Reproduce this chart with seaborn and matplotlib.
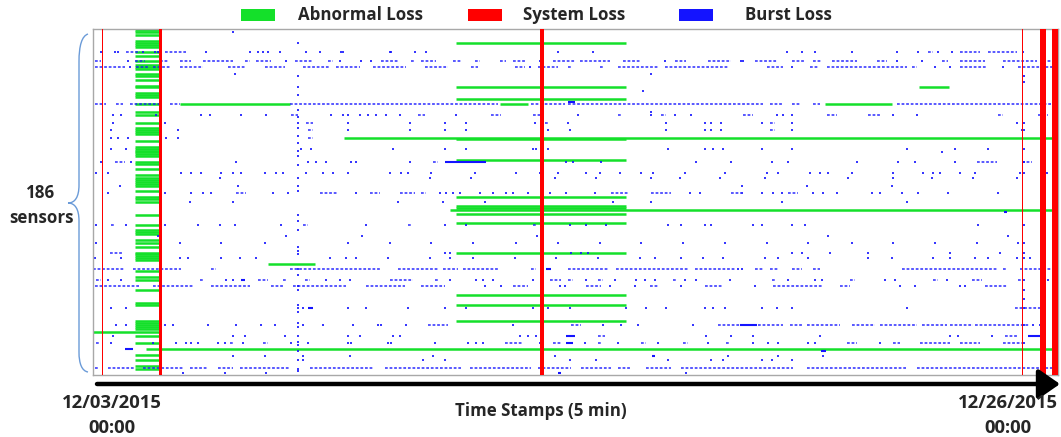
import numpy as np
import pandas as pd
import seaborn as sns
import matplotlib.pyplot as plt
from matplotlib.patches import Rectangle, FancyArrowPatch, PathPatch
from matplotlib.path import Path

# ---- data (time stamp index, 5-min steps; sensor index 0..185) ----
n_sensors = 186
n_stamps = 6624  # 23 days x 288

abnormal_left_rows = [0, 1, 3, 6, 7, 8, 9, 12, 14, 17, 19, 20, 21, 24, 25, 27, 30, 31, 34, 35, 36,
                      40, 44, 46, 50, 53, 54, 55, 56, 60, 63, 64, 65, 66, 67, 68, 71, 72, 75, 78,
                      80, 81, 82, 83, 84, 87, 90, 91, 93, 100, 105, 108, 109, 110, 113, 115, 117,
                      120, 121, 122, 123, 124, 130, 133, 135, 140, 147, 148, 157, 158, 159, 160,
                      161, 165, 169, 175, 178, 181, 183]
abnormal_left_span = (288, 460)
abnormal_mid_rows = [7, 31, 37, 59, 70, 90, 95, 96, 99, 104, 120, 143, 148, 157]
abnormal_mid_span = (2492, 3662)
abnormal_long = [(40, 595, 1350), (40, 2792, 2986), (40, 5024, 5482), (58, 1721, 6624),
                 (31, 5670, 5876), (97, 2448, 6624), (126, 1201, 1522), (163, 0, 460),
                 (172, 362, 6624)]

system_loss = [(60, 66), (453, 474), (3071, 3094), (6376, 6382), (6401, 6405),
               (6500, 6541), (6585, 6622)]

burst_runs = [
    (12, 229, 320), (12, 492, 641), (12, 5734, 5768), (12, 5951, 6088), (12, 6146, 6340),
    (17, 11, 57), (17, 286, 355), (17, 458, 515), (17, 595, 675), (17, 755, 961), (17, 1041, 1075),
    (17, 1121, 1224), (17, 1384, 1510), (17, 1613, 1647), (17, 1979, 2094), (17, 2185, 2208),
    (17, 2254, 2357), (17, 2471, 2528), (17, 2620, 2654), (17, 2792, 2837), (17, 2883, 2963),
    (17, 3158, 3306), (17, 3341, 3547), (17, 3638, 3753), (17, 3993, 4073), (17, 4222, 4382),
    (17, 4544, 4693), (17, 4796, 4887), (17, 4944, 5002), (17, 5070, 5242), (17, 5379, 5448),
    (17, 5825, 5871), (17, 5951, 6123), (17, 6249, 6477), (17, 6523, 6592),
    (20, 11, 217), (20, 297, 378), (20, 412, 538), (20, 595, 755), (20, 927, 1041), (20, 1178, 1316),
    (20, 1441, 1624), (20, 1670, 1830), (20, 1922, 2151), (20, 2277, 2437), (20, 2597, 2643),
    (20, 2895, 2963), (20, 3055, 3192), (20, 3261, 3283), (20, 3478, 3501), (20, 3604, 3878),
    (20, 3924, 4359), (20, 4624, 4738), (20, 4921, 4979), (20, 5036, 5585), (20, 5619, 5654),
    (20, 5951, 6134), (20, 6351, 6580),
    (40, 11, 92), (40, 160, 206), (40, 252, 458), (40, 526, 595), (40, 1350, 2780), (40, 3009, 3238),
    (40, 3261, 4601), (40, 4647, 4738), (40, 4796, 4853), (40, 4944, 4990), (40, 5516, 6615),
    (46, 1361, 1407), (46, 2231, 2277), (46, 2734, 2803), (46, 3020, 3089), (46, 3604, 3627),
    (46, 3901, 3936), (46, 4464, 4533), (46, 5036, 5105), (46, 5322, 5402), (46, 6214, 6249),
    (46, 6489, 6557),
    (50, 1464, 1510), (50, 3100, 3123), (50, 4647, 4681), (54, 1476, 1510), (54, 4647, 4681),
    (58, 1476, 1510),
    (71, 149, 217), (71, 2334, 2368), (71, 6065, 6203), (71, 6374, 6443),
    (88, 984, 1052), (88, 1556, 1682), (88, 1899, 1968), (88, 2105, 2208), (88, 2254, 2288),
    (88, 3558, 3673), (88, 3833, 3970), (88, 4382, 4450), (88, 4773, 4841),
    (105, 126, 149), (105, 1441, 1476), (105, 2162, 2185), (105, 3020, 3043), (120, 114, 206),
    (129, 0, 217), (129, 275, 606), (129, 812, 847), (129, 1350, 1968), (129, 2094, 2368),
    (129, 2403, 2506), (129, 2540, 2780), (129, 3009, 3043), (129, 3261, 3535), (129, 3592, 4084),
    (129, 4130, 4405), (129, 4544, 4601), (129, 4647, 4704), (129, 4796, 4864), (129, 4944, 4990),
    (129, 5551, 6214), (129, 6249, 6272), (129, 6363, 6592),
    (135, 23, 57), (135, 732, 755), (135, 1133, 1201), (135, 1304, 1327), (135, 1453, 1487),
    (135, 2036, 2196), (135, 2345, 2368), (135, 3135, 3215), (135, 3261, 3295), (135, 3467, 3501),
    (135, 3981, 4004), (135, 4658, 4681), (135, 5196, 5230), (135, 5768, 5802), (135, 6031, 6100),
    (135, 6351, 6386),
    (138, 11, 320), (138, 412, 686), (138, 812, 1075), (138, 1224, 1304), (138, 1373, 1739),
    (138, 1876, 2139), (138, 2254, 2414), (138, 2883, 2986), (138, 3386, 3489), (138, 3821, 3878),
    (138, 4199, 4325), (138, 4670, 5013), (138, 5127, 5196), (138, 6123, 6272),
    (150, 6329, 6546),
    (159, 2300, 2437), (159, 3284, 3352), (159, 4290, 4450), (159, 4567, 4738), (159, 4784, 4876),
    (159, 4899, 5127), (159, 5207, 5368), (159, 5402, 5654), (159, 5688, 5860), (159, 5882, 6043),
    (159, 6054, 6432),
    (165, 3467, 3512), (165, 6260, 6340),
    (169, 23, 46), (169, 938, 961), (169, 1167, 1201), (169, 2826, 2952), (169, 3158, 3215),
    (169, 3467, 3489), (169, 3764, 3798), (169, 4050, 4084), (169, 4348, 4371), (169, 5173, 5242),
    (169, 5493, 5539), (169, 5677, 5882), (169, 5951, 6088), (169, 6249, 6386),
    (182, 11, 34), (182, 103, 286), (182, 343, 618), (182, 664, 789), (182, 858, 961),
    (182, 1007, 1350), (182, 1487, 1922), (182, 2002, 2528), (182, 2586, 3009), (182, 3055, 3283),
    (182, 3352, 3558), (182, 3604, 3684), (182, 3798, 3970), (182, 4039, 4807), (182, 4899, 5585),
    (182, 5654, 6580),
]

burst_blocks = [(71, 2414, 2700), (39, 3261, 3306), (135, 1018, 1041), (129, 3112, 3146),
                (150, 1476, 1510), (165, 3249, 3306), (165, 6420, 6500), (169, 3249, 3295),
                (172, 217, 275), (173, 5000, 5030), (185, 3192, 3215), (98, 6250, 6275),
                (176, 3835, 3855), (159, 4441, 4555)]

burst_dots = {
    1: [961],
    12: [57, 149, 172, 343, 423, 446, 778, 1075, 1133, 1167, 1201, 1281, 1464, 1556, 1705, 1716,
         2036, 2048, 2208, 2288, 3192, 3432, 4761, 4864, 4956, 5207, 5516, 5665, 5802, 5894, 6386],
    17: [240, 1327, 1693, 1842, 1910, 3066, 3924, 4450, 4464, 5516, 5688],
    20: [252, 2997, 4796, 5779, 5882, 6249],
    24: [972, 3833], 33: [3775], 44: [3833],
    46: [137, 194, 435, 744, 801, 1018, 1190, 1636, 1716, 1750, 1830, 1888, 1945, 2013, 2105,
         2494, 3329, 3833, 3993, 4107, 4693, 4738, 4796, 5493, 5654],
    50: [137, 492, 1750, 2174, 2414, 2563, 3032, 3261, 3936, 4199, 4245, 4313, 4590, 4796, 6340],
    54: [126, 583, 1750, 2174, 2414, 2563, 3123, 3272, 3936, 4199, 4245, 4313, 4796, 6374],
    58: [126, 172, 240, 458, 503, 583],
    64: [126, 229, 1430, 1499, 2059, 2414, 2563, 3020, 3043, 3123, 3947, 4199, 4257, 4325, 4590,
         4796, 5585, 5917, 6146],
    66: [5825],
    71: [57, 263, 984, 1476, 1533, 1602, 1773, 1808, 2174, 3249, 3295, 3489, 4142, 4382, 4658,
         4773, 5242, 5528, 5643, 5917],
    77: [23, 103, 606, 675, 744, 881, 961, 1018, 1178, 1258, 1304, 1464, 1579, 1647, 1750, 2036,
         2116, 2162, 2323, 2620, 2906, 3066, 3192, 3386, 3478, 3615, 3764, 3844, 4061, 4336, 4624,
         4704, 4921, 4990, 5047, 5207, 5493, 5699, 5768, 5814, 5951, 6054, 6363, 6546],
    80: [869, 2311, 2597, 3169, 3455, 3833, 4027, 4302, 4613, 5185, 5493, 5757, 6043, 6340],
    84: [183, 995, 4452, 4899, 5482],
    88: [103, 492, 675, 755, 812, 1236, 1338, 1808, 2380, 2425, 2471, 2517, 2654, 2746, 2837,
         2883, 2986, 3135, 3249, 3444, 4096, 4165, 4452, 4590, 4670, 4727, 4944, 5013, 5105, 5345,
         5402, 5551, 5665, 5871, 6214],
    93: [664, 961, 2094, 2403, 2689, 3570, 3833, 4727, 5590],
    105: [23, 229, 492, 721, 869, 972, 1293, 1876, 2414, 2563, 3272, 3386, 3524, 3947, 4039, 4199,
          4245, 4533, 4590, 4796, 4887, 6077],
    111: [446, 1322, 1849, 3050, 5047, 6283],
    115: [23, 595, 881, 1178, 1750, 2036, 2323, 2609, 2906, 3192, 3478, 3764, 4050, 4336, 4624,
          4910, 5208, 5493, 5779, 6065, 6351],
    120: [2414, 2448, 3284, 3352, 3398, 4796, 4864, 5059, 5322, 5882, 6226],
    123: [11, 194, 595, 652, 881, 1007, 1121, 1624, 1739, 1808, 2025, 2311, 2448, 2609, 2895, 3181,
          3467, 3753, 3856, 4039, 4187, 4325, 4613, 4704, 4910, 5322, 5482, 5768, 5882, 6054, 6146,
          6340, 6432],
    129: [4428, 4452],
    135: [103, 194, 915, 961, 1602, 1693, 1762, 2448, 2631, 2677, 2746, 3020, 3386, 3581, 3730,
          3787, 3856, 4061, 4142, 4370, 4773, 4956, 5002, 5436, 5505, 5859, 6557],
    138: [2689, 2803, 3078, 3203, 3238, 3547, 3718, 4039, 4544, 5539, 5642, 5951, 5985],
    145: [469],
    150: [126, 229, 1441, 1750, 1876, 2162, 2414, 2563, 3020, 3123, 3272, 3661, 3798, 3936, 4199,
          4257, 4336, 4590, 4693, 4796, 5585],
    159: [160, 229, 492, 549, 789, 984, 1155, 1247, 1441, 1579, 1785, 1956, 1979, 2151, 2883, 3501,
          3627, 3741, 4119, 6455, 6500],
    165: [137, 961, 1041, 1316, 1750, 1830, 2059, 2105, 2929, 2986, 3043, 4210, 4382, 4533, 4990,
          5882, 5940, 6169],
    169: [126, 412, 572, 641, 675, 721, 858, 904, 1030, 1361, 1476, 1750, 1773, 2025, 2048, 2345,
          2574, 2631, 2677, 3066, 3375, 3604, 3878, 4222, 4533, 4635, 4704, 4910, 4956, 5402],
    176: [961, 1178, 1441, 1762, 2334, 3169, 4359, 4704, 5013],
    178: [1441, 2265, 2414, 3272, 3455, 3947, 4245, 4325, 4590, 4658, 4796],
    185: [618, 904, 1190, 4073],
}
# sensors hit at the same stamp (vertical streaks)
streak_times = [1405, 6390]
streak_sensors = [
    [7, 25, 31, 35, 43, 47, 50, 53, 57, 61, 65, 68, 73, 80, 84, 87, 100, 103, 108, 117, 119, 121,
     129, 132, 138, 140, 148, 150, 152, 158, 160, 165, 168, 170, 173, 178, 183, 184],
    [25, 28, 50, 54, 64, 71, 77, 105, 115, 120, 123, 135, 140, 145, 150, 159, 169],
]

legend_labels = ['Abnormal Loss', 'System Loss', 'Burst Loss']

GREEN = '#14e02a'
RED = '#ff0000'
BLUE = '#1414ff'

# ---- figure ----
sns.set_theme(style="white")
plt.rcParams['font.family'] = ['Open Sans', 'DejaVu Sans']

W, H = 1061, 437
fig = plt.figure(figsize=(W / 100, H / 100), dpi=100)
ax = fig.add_axes([93 / W, 1 - 375 / H, (1058 - 93) / W, (375 - 29) / H])


def fx(px):
    return px / W


def fy(py):
    return 1 - py / H


# abnormal loss
ax.hlines(abnormal_left_rows, abnormal_left_span[0], abnormal_left_span[1], colors=GREEN,
          linewidth=1.8, zorder=1)
ax.hlines(abnormal_mid_rows, abnormal_mid_span[0], abnormal_mid_span[1], colors=GREEN,
          linewidth=1.8, zorder=1)
for s, a, b in abnormal_long:
    ax.hlines(s, a, b, colors=GREEN, linewidth=1.8, zorder=1)

# burst loss
for s, a, b in burst_runs:
    ax.hlines(s, a, b, colors=BLUE, linewidth=1.1, linestyles=(0, (1.8, 1.2)), alpha=0.9, zorder=2)
for s, a, b in burst_blocks:
    ax.hlines(s, a, b, colors=BLUE, linewidth=1.5, zorder=2)

dot_rows = []
for s, ts in burst_dots.items():
    for t in ts:
        dot_rows.append((t, s))
for t, ss in zip(streak_times, streak_sensors):
    for s in ss:
        dot_rows.append((t, s))
df_dots = pd.DataFrame(dot_rows, columns=['time', 'sensor'])
sns.scatterplot(data=df_dots, x='time', y='sensor', marker='s', s=2.6, color=BLUE,
                linewidth=0, alpha=0.85, ax=ax, legend=False, zorder=2)

# system loss
for a, b in system_loss:
    ax.axvspan(a, b, color=RED, linewidth=0, zorder=3)

ax.set_xlim(0, n_stamps)
ax.set_ylim(n_sensors, -0.5)
ax.set_xticks([])
ax.set_yticks([])
ax.set_xlabel('')
ax.set_ylabel('')
for sp in ax.spines.values():
    sp.set_color('#a8a8a8')
    sp.set_linewidth(1.0)

# legend (manual, above the plot)
fs = 12.2
leg_items = [(241, 275, GREEN, 298), (468, 502, RED, 523), (679, 713, BLUE, 745)]
for (x0, x1, col, tx), lab in zip(leg_items, legend_labels):
    fig.add_artist(Rectangle((fx(x0), fy(21)), fx(x1 - x0), 12 / H, transform=fig.transFigure,
                             color=col, linewidth=0))
    fig.text(fx(tx), fy(15), lab, ha='left', va='center', fontsize=fs, fontweight='bold')

# left brace + label
pts = [(88, 34), (82, 36), (79, 45), (79, 62),
       (79, 185),
       (79, 197), (75, 203), (68, 203),
       (75, 203), (79, 209), (79, 221),
       (79, 352),
       (79, 364), (82, 371), (88, 372)]
codes = [Path.MOVETO, Path.CURVE4, Path.CURVE4, Path.CURVE4,
         Path.LINETO,
         Path.CURVE4, Path.CURVE4, Path.CURVE4,
         Path.CURVE4, Path.CURVE4, Path.CURVE4,
         Path.LINETO,
         Path.CURVE4, Path.CURVE4, Path.CURVE4]
brace = Path([(fx(x), fy(y)) for x, y in pts], codes)
fig.add_artist(PathPatch(brace, transform=fig.transFigure, facecolor='none',
                         edgecolor='#6b9bd8', linewidth=1.0))
fig.text(fx(41), fy(193), '186', ha='center', va='center', fontsize=fs, fontweight='bold')
fig.text(fx(41), fy(218), 'sensors', ha='center', va='center', fontsize=fs, fontweight='bold')

# time arrow + labels
arrow = FancyArrowPatch((fx(97), fy(384)), (fx(1060), fy(384)), transform=fig.transFigure,
                        arrowstyle='-|>,head_length=0.65,head_width=0.45', mutation_scale=20,
                        color='black', linewidth=3.2, shrinkA=0, shrinkB=0)
fig.add_artist(arrow)

fs_date = 13.3
fig.text(fx(112), fy(403), '12/03/2015', ha='center', va='center', fontsize=fs_date,
         fontweight='bold')
fig.text(fx(112), fy(428), '00:00', ha='center', va='center', fontsize=fs_date, fontweight='bold')
fig.text(fx(1008), fy(403), '12/26/2015', ha='center', va='center', fontsize=fs_date,
         fontweight='bold')
fig.text(fx(1008), fy(428), '00:00', ha='center', va='center', fontsize=fs_date, fontweight='bold')
fig.text(fx(541), fy(411), 'Time Stamps (5 min)', ha='center', va='center', fontsize=fs,
         fontweight='bold')

fig.savefig('out.png', dpi=100)
